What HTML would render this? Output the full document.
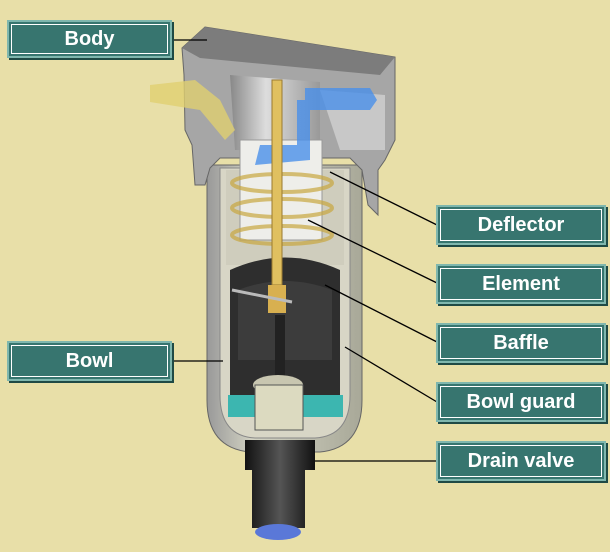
<!DOCTYPE html>
<html><head><style>
body{margin:0;width:610px;height:552px;background:#e8dfa8;overflow:hidden;position:relative;font-family:"Liberation Sans",sans-serif}
.b{position:absolute;background:#37756f;border:2px solid #7fb7ae;box-shadow:2px 2px 0 #1f4a45;color:#fff;font-weight:bold;font-size:20px;display:flex;align-items:center;justify-content:center}
.b span{position:absolute;inset:2px;border:1px solid #fff}
</style></head><body>
<svg width="610" height="552" style="position:absolute;left:0;top:0">
<defs>
<linearGradient id="g" x1="0" x2="1"><stop offset="0" stop-color="#999"/><stop offset=".3" stop-color="#d4d4c4"/><stop offset="1" stop-color="#a8a898"/></linearGradient>
<linearGradient id="d" x1="0" x2="1"><stop offset="0" stop-color="#111"/><stop offset=".5" stop-color="#555"/><stop offset="1" stop-color="#111"/></linearGradient>
<linearGradient id="m" x1="0" x2="1"><stop offset="0" stop-color="#888"/><stop offset=".4" stop-color="#ddd"/><stop offset="1" stop-color="#999"/></linearGradient>
</defs>
<!-- bowl guard -->
<path d="M207 165 L207 400 Q207 448 250 452 L320 452 Q362 448 362 400 L362 165 Z" fill="url(#g)" stroke="#666"/>
<path d="M220 168 L220 395 Q220 436 255 438 L315 438 Q350 436 350 395 L350 168 Z" fill="#d8d6c6" stroke="#888"/>
<path d="M226 170 L344 170 L344 265 L226 265 Z" fill="#cfcdbd"/>
<path d="M230 270 Q285 245 340 270 L340 415 L230 415 Z" fill="#2e2e2e"/>
<path d="M238 290 Q285 272 332 290 L332 360 L238 360 Z" fill="#3c3c3c"/>
<rect x="228" y="395" width="115" height="22" fill="#3cb6b0"/>
<!-- body top -->
<path d="M182 48 L205 27 L395 57 L395 140 L385 160 L378 170 L378 215 L368 205 L362 170 L350 158 L220 158 L210 168 L205 185 L195 185 L192 145 L185 130 L184 75 Z" fill="#a6a6a6" stroke="#666"/>
<path d="M182 48 L205 27 L395 57 L380 75 L200 58 Z" fill="#7c7c7c"/>
<path d="M230 75 L320 82 L320 150 L235 150 Z" fill="url(#m)"/>
<path d="M320 90 L385 95 L385 150 L340 150 Z" fill="#c8c8c8"/>
<!-- element -->
<rect x="240" y="140" width="82" height="100" fill="#eeeeea" stroke="#999"/>
<path d="M305 100 L305 88 L370 88 L377 100 L370 110 L310 110 L310 160 L255 165 L260 145 L297 145 L297 100 Z" fill="#4a90ea" opacity=".8"/>
<path d="M150 85 L195 80 L220 100 L235 130 L225 140 L200 110 L150 102 Z" fill="#e0d070" opacity=".8"/>
<g fill="none" stroke="#c8a840" stroke-width="4" opacity=".7">
<ellipse cx="282" cy="183" rx="50" ry="9"/><ellipse cx="282" cy="208" rx="50" ry="9"/><ellipse cx="282" cy="235" rx="50" ry="9"/>
</g>
<rect x="272" y="80" width="10" height="205" fill="#e0c060" stroke="#9a7a30"/>
<rect x="268" y="285" width="18" height="28" fill="#d8b050"/>
<line x1="232" y1="290" x2="292" y2="302" stroke="#bbb" stroke-width="3"/>
<rect x="275" y="315" width="10" height="65" fill="#222"/>
<!-- drain valve -->
<ellipse cx="278" cy="385" rx="25" ry="10" fill="#c8c6b0"/>
<rect x="255" y="385" width="48" height="45" fill="#dcdac0" stroke="#555"/>
<path d="M245 440 L315 440 L315 470 L305 470 L305 528 L252 528 L252 470 L245 470 Z" fill="url(#d)"/>
<ellipse cx="278" cy="532" rx="23" ry="8" fill="#5a78d8"/>
<g stroke="#000" stroke-width="1.3" fill="none">
<line x1="172" y1="40" x2="207" y2="40"/>
<line x1="437" y1="225" x2="330" y2="172"/>
<line x1="437" y1="283" x2="308" y2="220"/>
<line x1="437" y1="342" x2="325" y2="285"/>
<line x1="437" y1="402" x2="345" y2="347"/>
<line x1="437" y1="461" x2="315" y2="461"/>
<line x1="172" y1="361" x2="223" y2="361"/>
</g>
</svg>
<div class="b" style="left:7px;top:20px;width:161px;height:34px"><span></span>Body</div>
<div class="b" style="left:7px;top:341px;width:161px;height:36px"><span></span>Bowl</div>
<div class="b" style="left:436px;top:205px;width:166px;height:36px"><span></span>Deflector</div>
<div class="b" style="left:436px;top:264px;width:166px;height:36px"><span></span>Element</div>
<div class="b" style="left:436px;top:323px;width:166px;height:36px"><span></span>Baffle</div>
<div class="b" style="left:436px;top:382px;width:166px;height:36px"><span></span>Bowl guard</div>
<div class="b" style="left:436px;top:441px;width:166px;height:36px"><span></span>Drain valve</div>
</body></html>
